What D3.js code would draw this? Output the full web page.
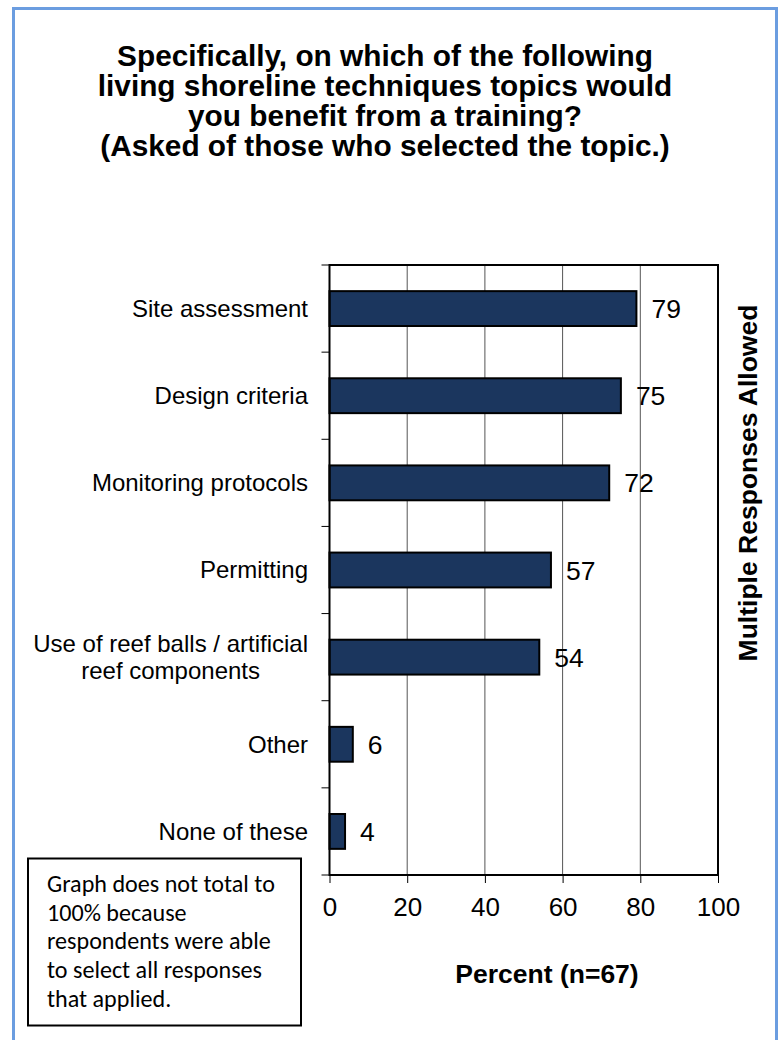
<!DOCTYPE html>
<html>
<head>
<meta charset="utf-8">
<script src="https://cdn.jsdelivr.net/npm/d3@7/dist/d3.min.js"></script>
<style>
  html, body { margin: 0; padding: 0; background: #fff; }
  svg { display: block; }
</style>
</head>
<body>
<svg id="chart" width="783" height="1040"></svg>
<script>
// ---- data ----
const titleLines = [
  "Specifically, on which of the following",
  "living shoreline techniques topics would",
  "you benefit from a training?",
  "(Asked of those who selected the topic.)"
];
const categories = [
  "Site assessment",
  "Design criteria",
  "Monitoring protocols",
  "Permitting",
  "Use of reef balls / artificial\nreef components",
  "Other",
  "None of these"
];
const values = [79, 75, 72, 57, 54, 6, 4];
const xTicks = [0, 20, 40, 60, 80, 100];
const xTitle = "Percent (n=67)";
const rightTitle = "Multiple Responses Allowed";
const noteLines = [
  "Graph does not total to",
  "100% because",
  "respondents were able",
  "to select all responses",
  "that applied."
];

// ---- layout ----
const svg = d3.select("#chart");
const W = 783, H = 1040;
const plot = { left: 329.5, right: 718, top: 265, bottom: 875 };
const barColor = "#1b365e";
const FONT = "'Liberation Sans', Arial, sans-serif";

// outer blue frame
svg.append("path")
  .attr("d", `M13.5,${H} L13.5,8.5 L776.5,8.5 L776.5,${H}`)
  .attr("fill", "none").attr("stroke", "#6b9de0").attr("stroke-width", 3);

// title
const title = svg.append("text")
  .attr("text-anchor", "middle")
  .attr("font-family", FONT)
  .attr("font-weight", "bold")
  .attr("font-size", 29.8)
  .attr("fill", "#000");
titleLines.forEach((t, i) => {
  title.append("tspan").attr("x", 385).attr("y", 66 + i * 30).text(t);
});

// scales
const x = d3.scaleLinear().domain([0, 100]).range([plot.left, plot.right]);
const y = d3.scaleBand().domain(categories)
  .range([plot.top, plot.bottom]).paddingInner(0.6).paddingOuter(0.3);

// gridlines
svg.append("g").selectAll("line")
  .data(xTicks.filter(d => d > 0 && d < 100))
  .join("line")
  .attr("x1", d => x(d)).attr("x2", d => x(d))
  .attr("y1", plot.top).attr("y2", plot.bottom)
  .attr("stroke", "#555").attr("stroke-width", 1);

// bars
svg.append("g").selectAll("rect")
  .data(categories)
  .join("rect")
  .attr("x", x(0))
  .attr("y", d => y(d))
  .attr("width", (d, i) => x(values[i]) - x(0))
  .attr("height", y.bandwidth())
  .attr("fill", barColor)
  .attr("stroke", "#000").attr("stroke-width", 2);

// value labels
svg.append("g").selectAll("text")
  .data(categories)
  .join("text")
  .attr("x", (d, i) => x(values[i]) + 15)
  .attr("y", d => y(d) + y.bandwidth() / 2)
  .attr("dy", "0.36em")
  .attr("font-family", FONT)
  .attr("font-size", 26.5)
  .attr("fill", "#000")
  .text((d, i) => values[i]);

// plot frame
svg.append("rect")
  .attr("x", plot.left).attr("y", plot.top)
  .attr("width", plot.right - plot.left).attr("height", plot.bottom - plot.top)
  .attr("fill", "none").attr("stroke", "#000").attr("stroke-width", 2);

// category ticks (band boundaries)
const step = y.step();
const boundaries = d3.range(categories.length + 1).map(i => plot.top + i * step);
svg.append("g").selectAll("line")
  .data(boundaries)
  .join("line")
  .attr("x1", plot.left - 8).attr("x2", plot.left)
  .attr("y1", d => d).attr("y2", d => d)
  .attr("stroke", "#000").attr("stroke-width", 1);

// category labels
const labelRight = 308;
const catG = svg.append("g")
  .attr("font-family", FONT)
  .attr("font-size", 24)
  .attr("fill", "#000");
categories.forEach(c => {
  const lines = c.split("\n");
  const cy = y(c) + y.bandwidth() / 2;
  const lh = 26.5;
  const t = catG.append("text");
  if (lines.length === 1) {
    t.attr("text-anchor", "end")
      .attr("x", labelRight).attr("y", cy).attr("dy", "0.35em").text(lines[0]);
  } else {
    t.attr("text-anchor", "middle");
    const spans = lines.map((l, i) =>
      t.append("tspan").attr("y", cy + (i - (lines.length - 1) / 2) * lh)
        .attr("dy", "0.35em").text(l));
    const maxW = d3.max(spans, s => s.node().getComputedTextLength());
    spans.forEach(s => s.attr("x", labelRight - maxW / 2));
  }
});

// x axis ticks + labels
const xAxis = d3.axisBottom(x).tickValues(xTicks).tickSize(8).tickPadding(15);
const xg = svg.append("g").attr("transform", `translate(0,${plot.bottom})`).call(xAxis);
xg.select(".domain").remove();
xg.selectAll(".tick line").attr("stroke", "#000").attr("stroke-width", 1);
xg.selectAll(".tick text")
  .attr("font-family", FONT)
  .attr("font-size", 26).attr("fill", "#000");

// x title
svg.append("text")
  .attr("x", 547).attr("y", 983)
  .attr("text-anchor", "middle")
  .attr("font-family", FONT)
  .attr("font-weight", "bold").attr("font-size", 26.5)
  .attr("fill", "#000")
  .text(xTitle);

// right rotated title
svg.append("text")
  .attr("transform", `translate(757,483) rotate(-90)`)
  .attr("text-anchor", "middle")
  .attr("font-family", FONT)
  .attr("font-weight", "bold").attr("font-size", 26.5)
  .attr("fill", "#000")
  .text(rightTitle);

// note box
svg.append("rect")
  .attr("x", 28).attr("y", 858.5).attr("width", 273).attr("height", 167)
  .attr("fill", "#fff").attr("stroke", "#000").attr("stroke-width", 2);
const note = svg.append("text")
  .attr("font-family", "Carlito, Lato, 'Open Sans', sans-serif")
  .attr("font-size", 22).attr("fill", "#000");
const noteSpans = noteLines.map((l, i) =>
  note.append("tspan").attr("x", 47).attr("y", 892 + i * 28.7).text(l));
// fit the first line to the reference width
const w0 = noteSpans[0].node().getComputedTextLength();
note.attr("font-size", 22 * 228 / w0);
</script>
</body>
</html>
